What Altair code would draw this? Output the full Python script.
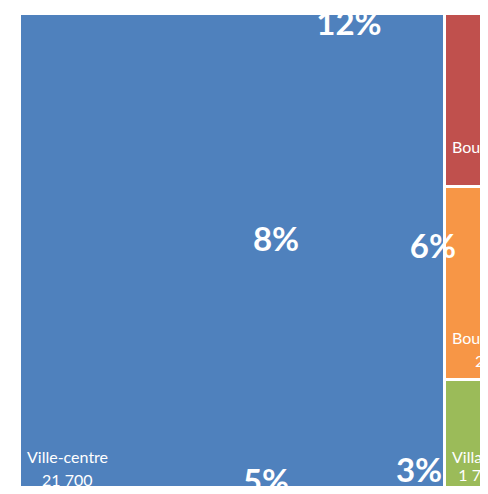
import altair as alt
import pandas as pd

# ---- data ----
categories = ["Ville-centre", "Bourgs structurants", "Bourgs relais", "Villages"]
values = [21700, 2000, 2230, 1700]
value_labels = ["21 700", "2 000", "2 230", "1 700"]
colors = ["#4F81BD", "#C0504D", "#F79646", "#9BBB59"]

pct_labels = ["12%", "8%", "6%", "5%", "3%"]
pct_x = [16820, 13100, 21110, 12590, 20400]
pct_y = [250, 2745, 2830, 5540, 5415]

# label baselines (data units) for name / value lines
name_y = [5197, 1613, 3821, 5197]
val_y = [5462, 1879, 4087, 5400]

# ---- slice-and-dice treemap layout from the values ----
big = values[0]
rest = sum(values[1:])
total_x = big + rest
rows = []
acc = 0
for i, (c, v) in enumerate(zip(categories, values)):
    if i == 0:
        x0, x1, y0, y1 = 0, big, 0, rest
    else:
        x0, x1, y0, y1 = big, total_x, acc, acc + v
        acc += v
    rows.append(dict(cat=c, x0=x0, x1=x1, y0=y0, y1=y1, color=colors[i],
                     vlab=value_labels[i], ny=name_y[i], vy=val_y[i]))
df = pd.DataFrame(rows)

W, H = 472, 478
px_x = 425 / big           # px per unit horizontally
px_y = 173 / values[1]     # px per unit vertically
x_start, y_start = 11.5, 5.5
pad = 7.5
font_px = 16
df["vx"] = df["x0"] + (pad + df["cat"].str.len() * 0.42 * font_px / 2) / px_x

xs = alt.Scale(domain=[0, total_x], range=[x_start, x_start + total_x * px_x])
ys = alt.Scale(domain=[0, rest], range=[y_start, y_start + rest * px_y])

base = alt.Chart(df)
rects = base.mark_rect(stroke="white", strokeWidth=3, clip=True).encode(
    x=alt.X("x0:Q", scale=xs, axis=None),
    x2="x1:Q",
    y=alt.Y("y0:Q", scale=ys, axis=None),
    y2="y1:Q",
    color=alt.Color("color:N", scale=None, legend=None),
)
names = base.mark_text(align="left", baseline="alphabetic", dx=pad, font="Lato",
                       fontSize=font_px, color="white", clip=True).encode(
    x=alt.X("x0:Q", scale=xs), y=alt.Y("ny:Q", scale=ys), text="cat:N")
vals = base.mark_text(align="center", baseline="alphabetic", font="Lato",
                      fontSize=font_px, color="white", clip=True).encode(
    x=alt.X("vx:Q", scale=xs), y=alt.Y("vy:Q", scale=ys), text="vlab:N")

pdf = pd.DataFrame({"t": pct_labels, "x": pct_x, "y": pct_y})
pcts = alt.Chart(pdf).mark_text(align="center", baseline="alphabetic", font="Lato",
                                fontWeight="bold", fontSize=33, color="white",
                                clip=True).encode(
    x=alt.X("x:Q", scale=xs), y=alt.Y("y:Q", scale=ys), text="t:N")

chart = alt.layer(rects, names, vals, pcts).properties(
    width=W, height=H, padding=0, autosize=alt.AutoSizeParams(type="none")
).configure_view(stroke=None)

chart.save("out.html", embed_options={"renderer": "svg", "actions": False})
